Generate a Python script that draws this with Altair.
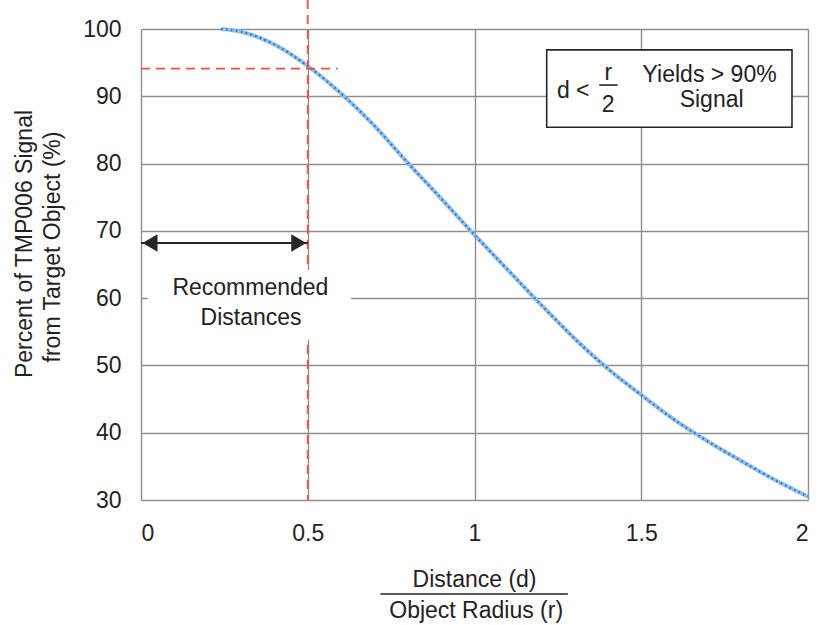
import altair as alt
import pandas as pd

# ---- data ----
distance = [0.24, 0.3, 0.4, 0.5, 0.6, 0.7, 0.8, 0.9, 1.0, 1.1, 1.2, 1.3, 1.4, 1.5, 1.6, 1.7, 1.8, 1.9, 2.0]
signal = [100.0, 99.6, 97.7, 94.5, 90.4, 85.6, 80.1, 74.8, 69.4, 64.2, 59.0, 54.0, 49.5, 45.6, 41.9, 38.7, 35.8, 33.0, 30.5]
x_ticks = [0, 0.5, 1, 1.5, 2]
y_ticks = [30, 40, 50, 60, 70, 80, 90, 100]

marker_d = 0.5          # recommended max distance (d = r/2)
marker_signal = 94.1    # signal at d = r/2
arrow_level = 68.2

FONT = "Liberation Sans"
RED = "#f0503f"
DARK = "#262626"
TXT = "#222222"
FS = 23

curve = pd.DataFrame({"d": distance, "s": signal})

xs = alt.Scale(domain=[0, 2], nice=False, zero=False)
ys = alt.Scale(domain=[30, 100], nice=False, zero=False)

x_axis = alt.Axis(values=x_ticks, format="~g", title=None, grid=True, ticks=False, domain=False,
                  labelFontSize=FS, labelFont=FONT, labelColor=TXT, labelPadding=22,
                  gridColor="#8f8f8f", gridWidth=1.4)
y_axis = alt.Axis(values=y_ticks, title=None, grid=True, ticks=False, domain=False,
                  labelFontSize=FS, labelFont=FONT, labelColor=TXT, labelPadding=20,
                  gridColor="#8f8f8f", gridWidth=1.4)


def X(f="d"):
    return alt.X(f"{f}:Q", scale=xs, axis=x_axis)


def Y(f="s"):
    return alt.Y(f"{f}:Q", scale=ys, axis=y_axis)


# curve: light blue line with darker dots on top
curve_base = alt.Chart(curve).mark_line(color="#8fc0ea", strokeWidth=4, interpolate="monotone").encode(X(), Y())
curve_dots = alt.Chart(curve).mark_line(color="#2f6fc0", strokeWidth=2.4, strokeDash=[1.5, 3.5],
                                        interpolate="monotone").encode(X(), Y())

# red dashed guides
vline = alt.Chart(pd.DataFrame({"d": [marker_d]})).mark_rule(
    color=RED, strokeWidth=1.8, strokeDash=[9, 6]).encode(X(), y=alt.value(-29), y2=alt.value(471))
hline = alt.Chart(pd.DataFrame({"d": [0.0], "d2": [0.59], "s": [marker_signal]})).mark_rule(
    color=RED, strokeWidth=1.8, strokeDash=[9, 6]).encode(X(), x2="d2:Q", y=Y())

# white background behind "Recommended Distances"
label_bg = alt.Chart(pd.DataFrame({"d": [0.02], "d2": [0.63], "s": [64.2], "s2": [53.8]})).mark_rect(
    color="white").encode(X(), x2="d2:Q", y=Y(), y2="s2:Q")

# double arrow
arrow_line = alt.Chart(pd.DataFrame({"d": [0.0], "d2": [marker_d], "s": [arrow_level]})).mark_rule(
    color=DARK, strokeWidth=2).encode(X(), x2="d2:Q", y=Y())
head_l = alt.Chart(pd.DataFrame({"d": [0.0], "s": [arrow_level]})).mark_point(
    shape="triangle-left", filled=True, color=DARK, size=300, opacity=1, xOffset=9).encode(X(), Y())
head_r = alt.Chart(pd.DataFrame({"d": [marker_d], "s": [arrow_level]})).mark_point(
    shape="triangle-right", filled=True, color=DARK, size=300, opacity=1, xOffset=-9).encode(X(), Y())

rec_text = alt.Chart(pd.DataFrame({"d": [0.328, 0.33], "s": [60.5, 56.0],
                                   "t": ["Recommended", "Distances"]})).mark_text(
    font=FONT, fontSize=FS, color=TXT, align="center", baseline="alphabetic").encode(X(), Y(), text="t:N")

# annotation box
box = alt.Chart(pd.DataFrame({"d": [1.2165], "d2": [1.952], "s": [96.9], "s2": [85.4]})).mark_rect(
    fill="white", stroke=DARK, strokeWidth=1.6).encode(X(), x2="d2:Q", y=Y(), y2="s2:Q")
box_text = alt.Chart(pd.DataFrame({
    "d": [1.296, 1.401, 1.401, 1.705, 1.711],
    "s": [89.75, 92.4, 87.65, 92.1, 88.35],
    "t": ["d <", "r", "2", "Yields > 90%", "Signal"]})).mark_text(
    font=FONT, fontSize=FS, color=TXT, align="center", baseline="alphabetic").encode(X(), Y(), text="t:N")
frac_bar = alt.Chart(pd.DataFrame({"d": [1.374], "d2": [1.429], "s": [91.67]})).mark_rule(
    color=TXT, strokeWidth=1.6).encode(X(), x2="d2:Q", y=Y())

# axis titles
x_title = alt.Chart(pd.DataFrame({"d": [1.0, 1.005], "t": ["Distance (d)", "Object Radius (r)"],
                                  "yy": [558, 589]})).mark_text(
    font=FONT, fontSize=FS, color=TXT, align="center", baseline="alphabetic").encode(
    X(), y=alt.Y("yy:Q", scale=None, axis=None), text="t:N")
x_title_bar = alt.Chart(pd.DataFrame({"d": [0.718], "d2": [1.28]})).mark_rule(
    color=TXT, strokeWidth=1.6).encode(X(), x2="d2:Q", y=alt.value(565))
y_title1 = alt.Chart(pd.DataFrame({"t": ["Percent of TMP006 Signal"]})).mark_text(
    font=FONT, fontSize=FS, color=TXT, align="center", baseline="middle", angle=270).encode(
    x=alt.value(-116), y=alt.value(215), text="t:N")
y_title2 = alt.Chart(pd.DataFrame({"t": ["from Target Object (%)"]})).mark_text(
    font=FONT, fontSize=FS, color=TXT, align="center", baseline="middle", angle=270).encode(
    x=alt.value(-88), y=alt.value(218), text="t:N")

chart = alt.layer(
    curve_base, curve_dots, vline, hline, label_bg, arrow_line, head_l, head_r, rec_text,
    box, frac_bar, box_text, x_title, x_title_bar, y_title1, y_title2
).properties(
    width=667, height=471,
    autosize=alt.AutoSizeParams(type="none"),
    padding={"left": 141, "top": 29, "right": 9, "bottom": 125},
    background="white",
).configure_view(
    stroke=DARK, strokeWidth=3
).configure(font=FONT)

chart.save("out.html", embed_options={"renderer": "svg", "actions": False})
